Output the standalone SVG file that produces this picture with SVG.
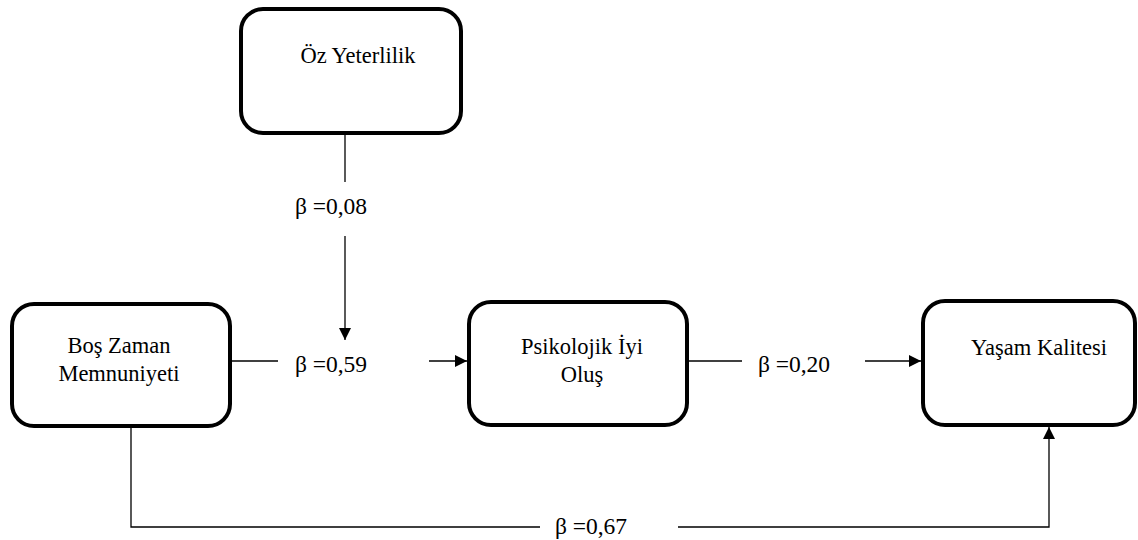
<svg xmlns="http://www.w3.org/2000/svg" width="1138" height="540" viewBox="0 0 1138 540">
<style>
.box{fill:#fff;stroke:#000;stroke-width:4}
.t{font-family:"Liberation Serif","Times New Roman",serif;font-size:22.5px;fill:#000;text-anchor:middle}
.b{font-family:"Liberation Serif","Times New Roman",serif;font-size:23.5px;fill:#000;text-anchor:middle}
.c{fill:none;stroke:#000;stroke-width:1.3}
</style>
<defs>
<marker id="ah" markerWidth="12" markerHeight="12" refX="12" refY="6" orient="auto" markerUnits="userSpaceOnUse">
<path d="M0,0 L12,6 L0,12 Z" fill="#000"/>
</marker>
</defs>
<rect width="1138" height="540" fill="#fff"/>
<g id="oz">
<rect class="box" x="241" y="9" width="220" height="124" rx="22"/>
<text class="t" x="358" y="63">Öz Yeterlilik</text>
</g>
<g id="bos">
<rect class="box" x="12" y="304" width="218" height="122" rx="22"/>
<text class="t" x="119" y="353">Boş Zaman</text>
<text class="t" x="119" y="381">Memnuniyeti</text>
</g>
<g id="psi">
<rect class="box" x="469" y="302" width="218" height="123" rx="22"/>
<text class="t" x="582" y="354">Psikolojik İyi</text>
<text class="t" x="582" y="382">Oluş</text>
</g>
<g id="yasam">
<rect class="box" x="923" y="301" width="212" height="124" rx="22"/>
<text class="t" x="1039" y="355">Yaşam Kalitesi</text>
</g>
<g id="connectors">
<line class="c" x1="345" y1="135" x2="345" y2="182"/>
<line class="c" x1="345" y1="236" x2="345" y2="340" marker-end="url(#ah)"/>
<text class="b" x="331" y="214">β =0,08</text>
<line class="c" x1="232" y1="361" x2="278" y2="361"/>
<line class="c" x1="429" y1="361" x2="467" y2="361" marker-end="url(#ah)"/>
<text class="b" x="331" y="372">β =0,59</text>
<line class="c" x1="689" y1="361" x2="742" y2="361"/>
<line class="c" x1="865" y1="361" x2="921" y2="361" marker-end="url(#ah)"/>
<text class="b" x="794" y="372">β =0,20</text>
<path class="c" d="M131,428 V527 H540"/>
<path class="c" d="M678,527 H1049 V427" marker-end="url(#ah)"/>
<text class="b" x="591" y="534">β =0,67</text>
</g>
</svg>
